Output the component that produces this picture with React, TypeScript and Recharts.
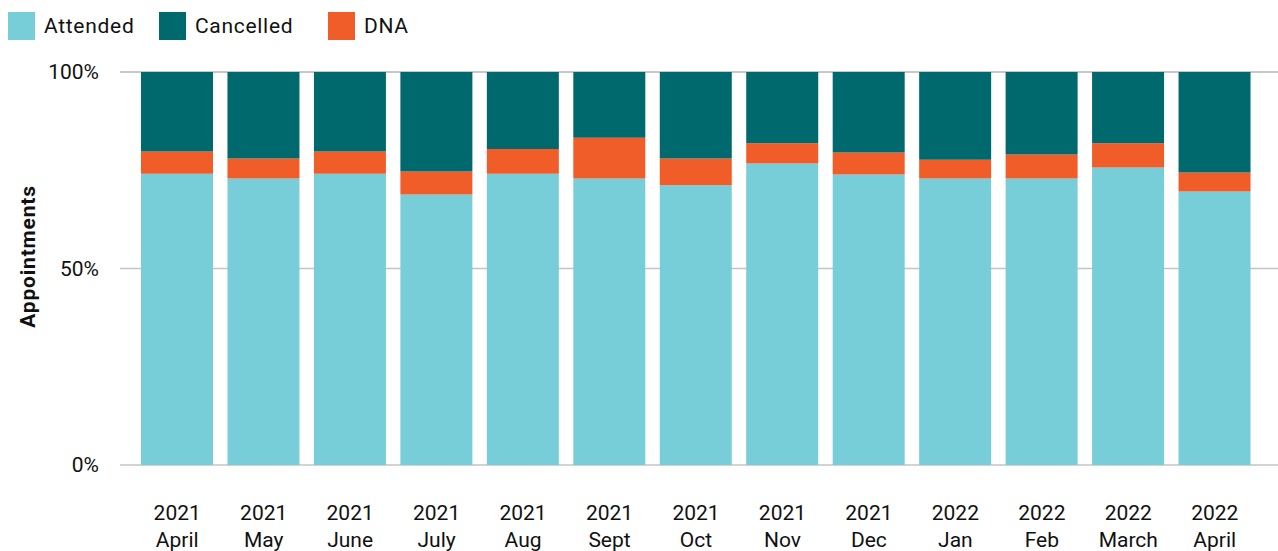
import React from 'react';
import { BarChart, Bar, XAxis, YAxis, CartesianGrid, Legend } from 'recharts';

const years = ['2021', '2021', '2021', '2021', '2021', '2021', '2021', '2021', '2021', '2022', '2022', '2022', '2022'];
const months = ['April', 'May', 'June', 'July', 'Aug', 'Sept', 'Oct', 'Nov', 'Dec', 'Jan', 'Feb', 'March', 'April'];
const attended = [74.1, 72.9, 74.1, 68.8, 74.1, 72.9, 71.2, 76.7, 73.9, 72.9, 72.9, 75.7, 69.6];
const dna = [5.7, 5.1, 5.7, 5.9, 6.3, 10.4, 6.8, 5.2, 5.6, 4.8, 6.1, 6.2, 4.8];
const cancelled = [20.2, 22.0, 20.2, 25.3, 19.6, 16.7, 22.0, 18.1, 20.5, 22.3, 21.0, 18.1, 25.6];
const yTicks = [0, 50, 100];

const COLORS = { Attended: '#77CED8', Cancelled: '#00696D', DNA: '#F05D29' };
const legendOrder = ['Attended', 'Cancelled', 'DNA'];
const legendItemWidths = [151, 169, 120];
const FONT = 'Roboto, sans-serif';

const data = months.map((m, i) => ({
  key: `${years[i]}|${m}|${i}`,
  Attended: attended[i],
  DNA: dna[i],
  Cancelled: cancelled[i],
}));

const XTick = (props: any) => {
  const { x, y, payload } = props;
  const [yr, mo] = String(payload.value).split('|');
  return (
    <g>
      <text x={x} y={y + 55} textAnchor="middle" fontFamily={FONT} fontSize={21} fill="#111">{yr}</text>
      <text x={x} y={y + 82} textAnchor="middle" fontFamily={FONT} fontSize={21} fill="#111">{mo}</text>
    </g>
  );
};

const LegendContent = () => (
  <div style={{ height: 72, display: 'flex', alignItems: 'flex-start', paddingTop: 12, paddingLeft: 8, boxSizing: 'border-box', fontFamily: FONT, fontSize: 21, color: '#111' }}>
    {legendOrder.map((name, i) => (
      <div key={name} style={{ display: 'flex', alignItems: 'center', width: legendItemWidths[i] }}>
        <div style={{ width: 27, height: 28, background: (COLORS as any)[name], marginRight: 9, flex: 'none' }} />
        <span style={{ letterSpacing: 0.7, lineHeight: '28px', whiteSpace: 'nowrap' }}>{name}</span>
      </div>
    ))}
  </div>
);

const YLabel = (props: any) => {
  const vb = props.viewBox || { y: 72, height: 393 };
  const cy = vb.y + vb.height / 2 - 12;
  return (
    <text x={35} y={cy} transform={`rotate(-90, 35, ${cy})`} textAnchor="middle" fontFamily={FONT} fontSize={21} fontWeight="bold" letterSpacing={0.8} fill="#111">
      Appointments
    </text>
  );
};

export default function App() {
  return (
    <div style={{ position: 'absolute', left: 0, top: 0, background: '#fff' }}>
      <BarChart width={1278} height={551} data={data} margin={{ top: 0, right: 0, bottom: 0, left: 0 }} barSize={72}>
        <Legend verticalAlign="top" align="left" wrapperStyle={{ top: 0, left: 0 }} content={<LegendContent />} />
        <CartesianGrid vertical={false} stroke="#c4c4c4" strokeWidth={1.5} />
        <XAxis
          dataKey="key"
          axisLine={false}
          tickLine={false}
          tickSize={0}
          tickMargin={0}
          height={86}
          interval={0}
          padding={{ left: 14, right: 20 }}
          tick={<XTick />}
        />
        <YAxis
          domain={[0, 100]}
          ticks={yTicks}
          width={120}
          axisLine={false}
          tickLine={false}
          tickMargin={15}
          tickFormatter={(v: number) => `${v}%`}
          tick={{ fontFamily: FONT, fontSize: 21, fill: '#111' }}
          label={<YLabel />}
        />
        <Bar dataKey="Attended" stackId="a" fill={COLORS.Attended} isAnimationActive={false} />
        <Bar dataKey="DNA" stackId="a" fill={COLORS.DNA} isAnimationActive={false} />
        <Bar dataKey="Cancelled" stackId="a" fill={COLORS.Cancelled} isAnimationActive={false} />
      </BarChart>
    </div>
  );
}
